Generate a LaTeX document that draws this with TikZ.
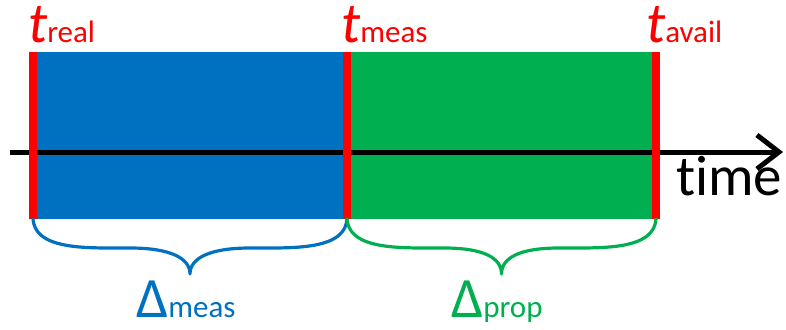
\documentclass[tikz,border=0pt]{standalone}
\usepackage{fontspec}
\setmainfont{Carlito}[Ligatures={NoCommon}]
\usetikzlibrary{arrows.meta}
\definecolor{myblue}{HTML}{0070C0}
\definecolor{mygreen}{HTML}{00B050}
\definecolor{myred}{HTML}{FF0000}
\newcommand{\bigsz}{\fontsize{57}{57}\selectfont}
\newcommand{\subsz}{\fontsize{31}{31}\selectfont}
\begin{document}
\begin{tikzpicture}[x=1pt,y=-1pt,
  marker/.style={draw=myred, line width=7.5pt},
  bracepath/.style={line width=3.2pt, line cap=round, line join=round},
  lbl/.style={anchor=base west, inner sep=0pt},
  axis/.style={line width=5pt, -{Straight Barb[length=22pt,width=34pt,line width=5pt]}}]
\useasboundingbox (0,0) rectangle (786,329);
% intervals
\node[fill=myblue, inner sep=0pt, minimum width=314pt, minimum height=167pt, anchor=north west] (measbox) at (33,52) {};
\node[fill=mygreen, inner sep=0pt, minimum width=309pt, minimum height=167pt, anchor=north west] (propbox) at (347,52) {};
% time axis
\coordinate (axL) at (10,152);
\coordinate (axR) at (783,152);
\draw[axis] (axL) -- (axR);
% markers
\coordinate (r1) at (33,52);  \coordinate (r2) at (33,219);
\coordinate (m1) at (347,52); \coordinate (m2) at (347,219);
\coordinate (a1) at (656,52); \coordinate (a2) at (656,219);
\draw[marker] (r1) -- (r2);
\draw[marker] (m1) -- (m2);
\draw[marker] (a1) -- (a2);
% braces
\draw[bracepath, draw=myblue] (r2) .. controls (35,245) and (70,248) .. (110,248) -- (130,248)
  .. controls (170,248) and (190,258) .. (190,274)
  .. controls (190,258) and (210,248) .. (250,248) -- (270,248)
  .. controls (310,248) and (345,245) .. (m2);
\draw[bracepath, draw=mygreen] (m2) .. controls (349,245) and (384,248) .. (424,248) -- (444,248)
  .. controls (484,248) and (501.5,258) .. (501.5,274)
  .. controls (501.5,258) and (519,248) .. (559,248) -- (579,248)
  .. controls (619,248) and (654,245) .. (a2);
% labels
\node[lbl, text=myred] (treal) at (28,42) {\bigsz\itshape t\subsz\upshape real};
\node[lbl, text=myred] (tmeas) at (341,42) {\bigsz\itshape t\subsz\upshape meas};
\node[lbl, text=myred] (tavail) at (646,42) {\bigsz\itshape t\subsz\upshape avail};
\node[lbl, text=black] (time) at (676,195) {\bigsz t\kern0pt ime};
\node[lbl, text=myblue] (dmeas) at (136,317) {\bigsz Δ\subsz meas};
\node[lbl, text=mygreen] (dprop) at (451,317) {\bigsz Δ\subsz prop};
\end{tikzpicture}
\end{document}
